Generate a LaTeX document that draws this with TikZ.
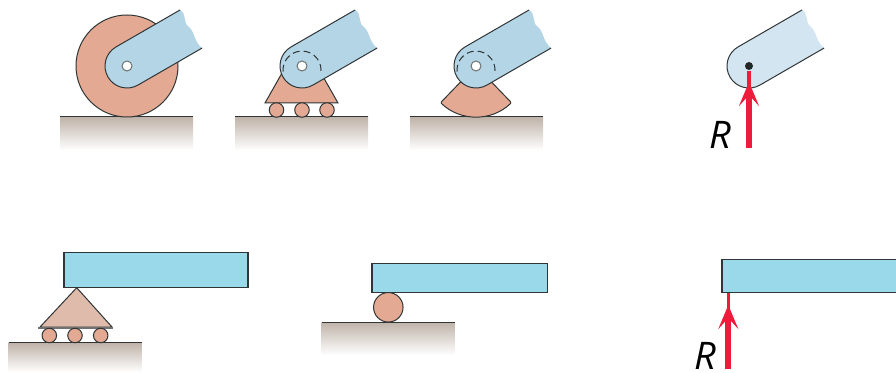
\documentclass[tikz,border=0pt]{standalone}
\usepackage{fontspec}
\setmainfont{Open Sans}
\usepackage{xcolor}
\usetikzlibrary{arrows.meta,positioning}
\definecolor{armblue}{HTML}{B3D5E6}
\definecolor{armpale}{HTML}{D3E5F0}
\definecolor{beamblue}{HTML}{99D9EA}
\definecolor{clay}{HTML}{E3A993}
\definecolor{claypale}{HTML}{DFBBAB}
\definecolor{soil}{HTML}{BFB3A9}
\definecolor{inkline}{HTML}{303536}
\definecolor{forcered}{HTML}{ED1C3C}
\tikzset{
  outl/.style={draw=inkline,line width=1pt},
  ground/.style={anchor=north west,minimum height=33pt,inner sep=0pt,outer sep=0pt,top color=soil,bottom color=white},
  groundline/.style={line width=1pt,draw=inkline},
  roller/.style={circle,outl,fill=clay,inner sep=0pt,outer sep=0pt,minimum size=14.5pt},
  beam/.style={rectangle,outl,line width=1.2pt,fill=beamblue,anchor=south west,inner sep=0pt,outer sep=0pt},
  hole/.style={circle,draw=inkline!70,line width=1pt,fill=white,inner sep=0pt,minimum size=10pt},
  dashedarc/.style={inkline,line width=1pt,dash pattern=on 7pt off 4pt},
  force/.style={-{Stealth[length=24pt,width=20pt,inset=11pt]},line width=6pt,color=forcered},
  stem/.style={line width=3.5pt,color=forcered},
  lbl/.style={font=\fontsize{38}{38}\selectfont\itshape,inner sep=0pt},
}
\newcommand{\drawarm}[2]{%
  \begin{scope}[shift={(#1)},rotate=30]
  \fill[#2] (74,22) .. controls (78,15) and (70,10) .. (73,3) .. controls (76,-4) and (70,-12) .. (74,-22)
    -- (0,-22) arc (-90:-270:22) -- cycle;
  \draw[outl] (74,22) -- (0,22) arc (90:270:22) -- (74,-22);
  \end{scope}}
\begin{document}
\begin{tikzpicture}[x=1pt,y=1pt]
\useasboundingbox (0,0) rectangle (896,372);
% ground blocks
\node[ground,minimum width=133pt] (ga) at (60,255) {};
\node[ground,minimum width=133pt] (gb) at (235,255) {};
\node[ground,minimum width=133pt] (gc) at (410,255) {};
\node[ground,minimum width=133pt,minimum height=29.3pt] (gd) at (8.5,29.3) {};
\node[ground,minimum width=133pt] (ge) at (321.7,50) {};
\foreach \g in {ga,gb,gc,gd,ge}
  \draw[groundline] (\g.north west)--(\g.north east);
% rocker disc
\draw[outl,fill=clay] (127,306) circle (51);
\drawarm{127,306}{armblue}
\node[hole] (pa) at (127,306) {};
% rollers with pin
\draw[outl,fill=clay] (265,269)--(286,306)--(317,306)--(338,269)--cycle;
\foreach \x/\n in {276.5/ra,302/rb,327/rc}
  \node[roller] (\n) at (\x,262) {};
\drawarm{302,306}{armblue}
\draw[dashedarc] (283.1,300.3) arc (185:-10:19);
\node[hole] (pb) at (302,306) {};
% rocker sector
\draw[outl,fill=clay,rounded corners=1pt] (476,306)-- ++(-134:51) arc (-134:-46:51)--cycle;
\drawarm{476,306}{armblue}
\draw[dashedarc] (457.1,300.3) arc (185:-10:19);
\node[hole] (pc) at (476,306) {};
% reaction on the arm
\drawarm{749,306}{armpale}
\node[circle,fill=black!85,inner sep=0pt,minimum size=8pt] (pd) at (749,306) {};
\coordinate (fa) at (749,224);
\coordinate (ma) at (749,290);
\coordinate (ta) at (749,301);
\draw[stem] (fa)--(ta);
\draw[force] (fa)--(ma);
\node[lbl] (la) at (720.5,237) {R};
% beam on rocker with rollers
\node[beam,minimum width=184pt,minimum height=35pt] (ba) at (64,84.3) {};
\draw[outl,fill=claypale] (76.7,84.3)--(112,45)--(40,45)--cycle;
\draw[draw=inkline!70,line width=2pt] (38,44.5)--(113,44.5);
\foreach \x/\n in {49.3/rd,75/re,100.7/rf}
  \node[roller] (\n) at (\x,36.5) {};
% beam on single roller
\node[beam,minimum width=175.7pt,minimum height=29.4pt] (bb) at (372,79.3) {};
\node[roller,minimum size=29.5pt] (rg) at (388.3,64.7) {};
% reaction on the beam
\coordinate (bl) at (722,79.3);
\fill[beamblue] (722,79.3) rectangle (896,112.7);
\draw[outl,line width=1.2pt] (896,112.7)--(722,112.7)--(bl)--(896,79.3);
\coordinate (fb) at (728.3,3);
\coordinate (mb) at (728.3,67);
\coordinate (tb) at (728.3,78.5);
\draw[stem] (fb)--(tb);
\draw[force] (fb)--(mb);
\node[lbl] (lb) at (705,16) {R};
\end{tikzpicture}
\end{document}
